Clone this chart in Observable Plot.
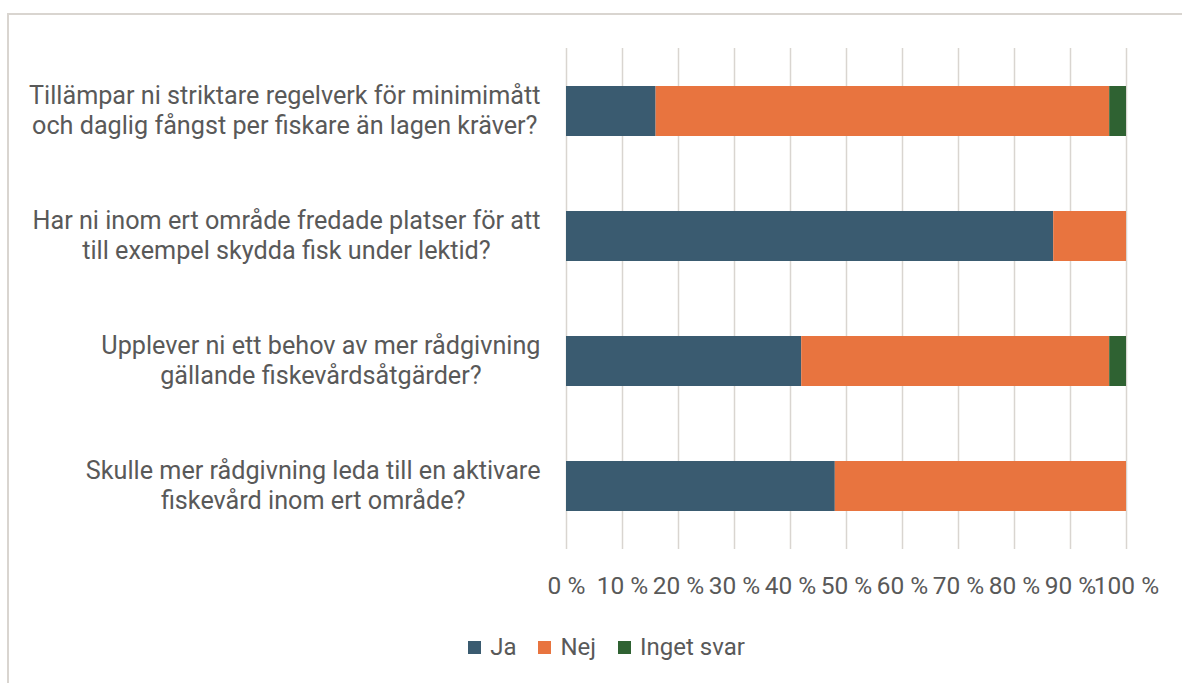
<!DOCTYPE html>
<html>
<head>
<meta charset="utf-8">
<script src="https://cdn.jsdelivr.net/npm/d3@7"></script>
<script src="https://cdn.jsdelivr.net/npm/@observablehq/plot@0.6"></script>
<style>
  html, body { margin: 0; padding: 0; background: #fff; }
  body { width: 1182px; height: 683px; position: relative; overflow: hidden; font-family: Roboto, "Open Sans", sans-serif; }
  #frame { position: absolute; left: 7px; top: 13px; width: 1300px; height: 800px; border-left: 2px solid #d9d5d0; border-top: 2px solid #d9d5d0; }
  #chart { position: absolute; left: 0; top: 0; }
  #legend { position: absolute; top: 632px; left: 0; width: 1182px; display: flex; justify-content: center; padding-left: 31px; box-sizing: border-box; gap: 22px; font-size: 24px; color: #595959; line-height: 30px; }
  .item { display: flex; align-items: center; gap: 9px; }
  .sw { width: 13px; height: 13px; display: inline-block; }
</style>
</head>
<body>
<div id="frame"></div>
<div id="chart"></div>
<div id="legend"></div>
<script>
const questions = [
  "Tillämpar ni striktare regelverk för minimimått\noch daglig fångst per fiskare än lagen kräver?",
  "Har ni inom ert område fredade platser för att\ntill exempel skydda fisk under lektid?",
  "Upplever ni ett behov av mer rådgivning\ngällande fiskevårdsåtgärder?",
  "Skulle mer rådgivning leda till en aktivare\nfiskevård inom ert område?"
];
const answers = ["Ja", "Nej", "Inget svar"];
const colors = ["#3a5b70", "#e8743f", "#2f6232"];
const ja = [0.16, 0.87, 0.42, 0.48];
const nej = [0.81, 0.13, 0.55, 0.52];
const ingetSvar = [0.03, 0.00, 0.03, 0.00];
const xTicks = [0, 0.1, 0.2, 0.3, 0.4, 0.5, 0.6, 0.7, 0.8, 0.9, 1.0];

const series = [ja, nej, ingetSvar];
const data = [];
questions.forEach((q, i) => {
  answers.forEach((a, j) => {
    data.push({question: q, answer: a, value: series[j][i]});
  });
});

const chart = Plot.plot({
  width: 1182,
  height: 600,
  marginLeft: 566,
  marginRight: 56,
  marginTop: 48,
  marginBottom: 51,
  style: {fontFamily: "Roboto, 'Open Sans', sans-serif", color: "#595959", background: "transparent"},
  x: {domain: [0, 1], ticks: xTicks, label: null},
  y: {domain: questions, paddingInner: 0.6, paddingOuter: 0.3, label: null},
  color: {domain: answers, range: colors},
  marks: [
    Plot.gridX(xTicks, {stroke: "#d9d5d0", strokeOpacity: 1, strokeWidth: 1.5}),
    Plot.barX(data, {x: "value", y: "question", fill: "answer", order: answers}),
    Plot.axisX(xTicks, {tickSize: 0, tickPadding: 27, fontSize: 24.5, fill: "#595959", tickFormat: d => Math.round(d * 100) + " %", label: null}),
    Plot.axisY({tickSize: 0, tickPadding: 26, fontSize: 25.2, fill: "#595959", lineHeight: 1.19, dy: -2, label: null})
  ]
});
document.getElementById("chart").appendChild(chart);

// Center each multi-line label within its own block, keeping the block right-aligned.
chart.querySelectorAll('g[aria-label="y-axis tick label"] text').forEach(t => {
  const b = t.getBBox();
  t.setAttribute("text-anchor", "middle");
  const tr = t.getAttribute("transform") || "";
  t.setAttribute("transform", tr + ` translate(${-b.width / 2},0)`);
});

const legend = document.getElementById("legend");
answers.forEach((a, j) => {
  const item = document.createElement("div");
  item.className = "item";
  const sw = document.createElement("span");
  sw.className = "sw";
  sw.style.background = colors[j];
  const t = document.createElement("span");
  t.textContent = a;
  item.appendChild(sw);
  item.appendChild(t);
  legend.appendChild(item);
});
</script>
</body>
</html>
